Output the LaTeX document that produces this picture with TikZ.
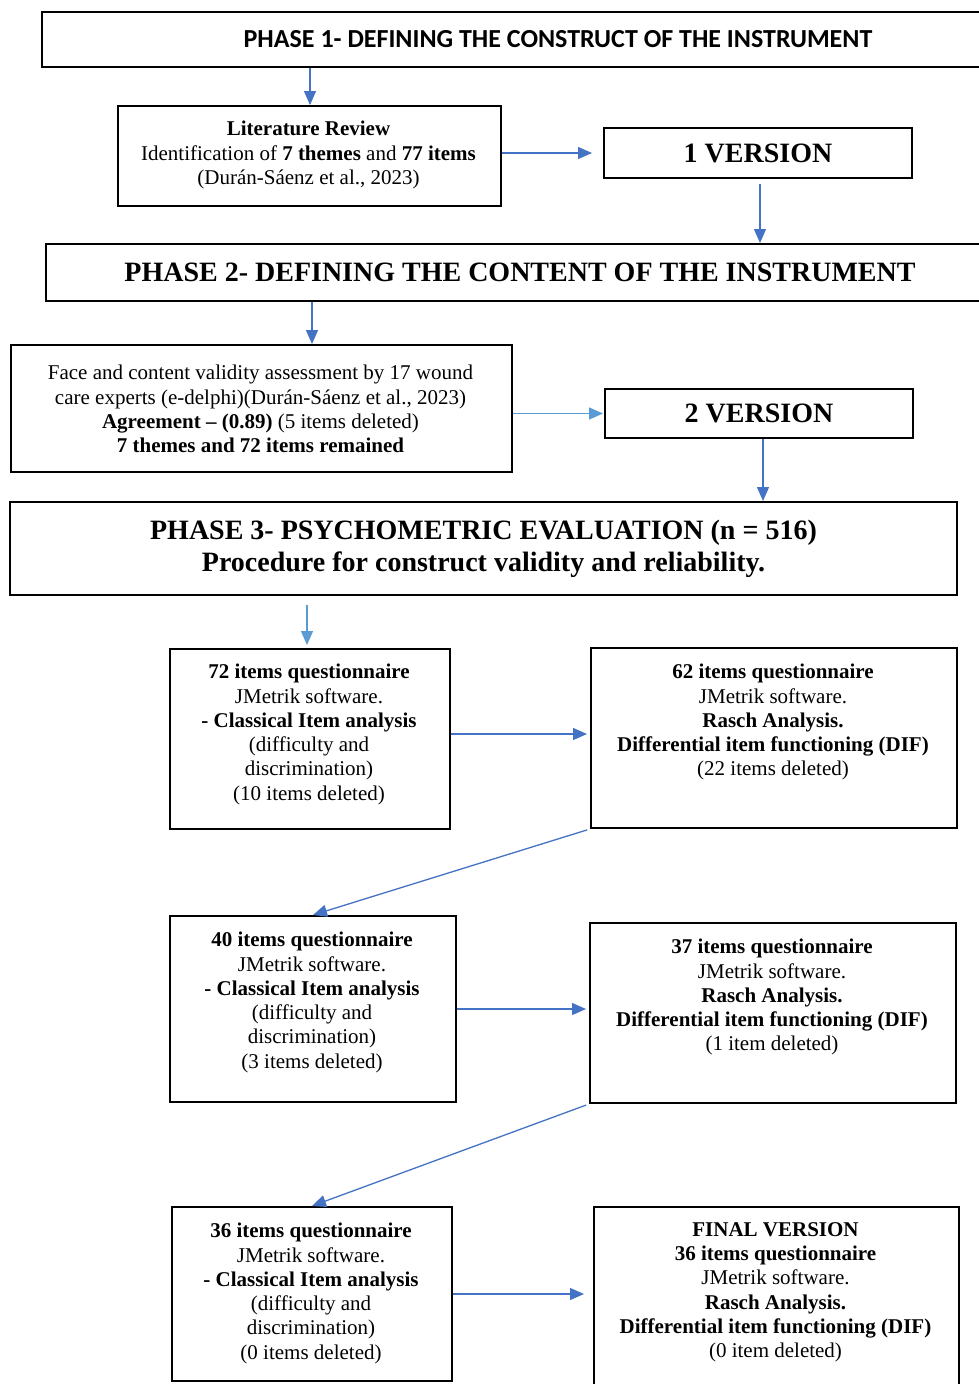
\documentclass[tikz,border=0pt]{standalone}
\usepackage{fontspec}
\setmainfont{Liberation Serif}
\newfontfamily\calib{Carlito}
\usetikzlibrary{arrows.meta}
\definecolor{arrblue}{HTML}{4472C4}
\definecolor{arrlight}{HTML}{5B9BD5}
\newcommand{\bodyfont}{\fontsize{21}{24.3}\selectfont}
\newcommand{\headfont}{\fontsize{28}{32}\selectfont\bfseries}
\tikzset{
  box/.style={draw=black, line width=2pt, inner sep=0pt, anchor=north west},
  txt/.style={font=\bodyfont, align=center, inner sep=0pt, anchor=north},
  arr/.style={draw=arrblue, line width=1.3pt, -{Triangle[length=14pt,width=12pt]}},
}
\begin{document}
\begin{tikzpicture}[x=1pt,y=-1pt]
\useasboundingbox (0,0) rectangle (979,1384);
% ---- boxes
\node[box, minimum width=1032, minimum height=55, font=\calib\fontsize{26}{30}\selectfont\bfseries] (p1) at (41,11) {PHASE 1- DEFINING THE CONSTRUCT OF THE INSTRUMENT};
\node[box, minimum width=383, minimum height=100] (lit) at (117,105) {};
\node[box, minimum width=308, minimum height=50, font=\headfont] (v1) at (603,127) {1 VERSION};
\node[box, minimum width=948, minimum height=57, font=\headfont] (p2) at (45,243) {PHASE 2- DEFINING THE CONTENT OF THE INSTRUMENT};
\node[box, minimum width=501, minimum height=127] (face) at (10,344) {};
\node[box, minimum width=308, minimum height=49, font=\headfont] (v2) at (604,388) {2 VERSION};
\node[box, minimum width=947, minimum height=93, font=\headfont, align=center] (p3) at (9,501) {PHASE 3- PSYCHOMETRIC EVALUATION (n = 516)\\[0pt]Procedure for construct validity and reliability.};
\node[box, minimum width=280, minimum height=180] (q72) at (169,648) {};
\node[box, minimum width=366, minimum height=180] (q62) at (590,647) {};
\node[box, minimum width=286, minimum height=186] (q40) at (169,915) {};
\node[box, minimum width=366, minimum height=180] (q37) at (589,922) {};
\node[box, minimum width=280, minimum height=174] (q36) at (171,1206) {};
\node[box, minimum width=365, minimum height=190] (fin) at (593,1206) {};
% ---- texts
\node[txt] (lit-t) at (308.5,121) {\textbf{Literature Review}\\Identification of \textbf{7 themes} and \textbf{77 items}\\(Durán-Sáenz et al., 2023)};
\node[txt] (face-t) at (260.5,365) {Face and content validity assessment by 17 wound\\care experts (e-delphi)(Durán-Sáenz et al., 2023)\\\textbf{Agreement – (0.89)} (5 items deleted)\\\textbf{7 themes and 72 items remained}};
\node[txt] (q72-t) at (309,664) {\textbf{72 items questionnaire}\\JMetrik software.\\\textbf{- Classical Item analysis}\\(difficulty and\\discrimination)\\(10 items deleted)};
\node[txt] (q62-t) at (773,664) {\textbf{62 items questionnaire}\\JMetrik software.\\\textbf{Rasch Analysis.}\\\textbf{Differential item functioning (DIF)}\\(22 items deleted)};
\node[txt] (q40-t) at (312,932) {\textbf{40 items questionnaire}\\JMetrik software.\\\textbf{- Classical Item analysis}\\(difficulty and\\discrimination)\\(3 items deleted)};
\node[txt] (q37-t) at (772,939) {\textbf{37 items questionnaire}\\JMetrik software.\\\textbf{Rasch Analysis.}\\\textbf{Differential item functioning (DIF)}\\(1 item deleted)};
\node[txt] (q36-t) at (311,1223) {\textbf{36 items questionnaire}\\JMetrik software.\\\textbf{- Classical Item analysis}\\(difficulty and\\discrimination)\\(0 items deleted)};
\node[txt] (fin-t) at (775.5,1222) {\textbf{FINAL VERSION}\\\textbf{36 items questionnaire}\\JMetrik software.\\\textbf{Rasch Analysis.}\\\textbf{Differential item functioning (DIF)}\\(0 item deleted)};
% ---- arrow guide coordinates
\coordinate (ax1) at (310,0);
\coordinate (ax2) at (312,0);
\coordinate (ax3) at (763,0);
\coordinate (ax4) at (307,0);
\coordinate (ay1) at (0,734);
\coordinate (ax5) at (760,0);
% ---- connectors
\draw[arr] (p1.south -| ax1) -- (lit.north -| ax1);
\draw[arr, shorten >=11pt] (lit.east |- v1.west) -- (v1.west);
\draw[arr, shorten <=5pt] (v1.south -| ax5) -- (p2.north -| ax5);
\draw[arr] (p2.south -| ax2) -- (face.north -| ax2);
\draw[arr, draw=arrlight, shorten >=1pt] (face.east |- v2.west) -- (v2.west);
\draw[arr] (v2.south -| ax3) -- (p3.north -| ax3);
\draw[arr, draw=arrlight, shorten <=9pt, shorten >=3pt] (p3.south -| ax4) -- (q72.north -| ax4);
\draw[arr, shorten >=3pt] (q72.east |- ay1) -- (q62.west |- ay1);
\draw[arr, shorten <=3pt] (q62.south west) -- (q40.north);
\draw[arr, shorten >=3pt] (q40.east) -- (q40.east -| q37.west);
\draw[arr, shorten <=3pt] (q37.south west) -- (q36.north);
\draw[arr, shorten >=9pt] (q36.east) -- (q36.east -| fin.west);
\end{tikzpicture}
\end{document}
